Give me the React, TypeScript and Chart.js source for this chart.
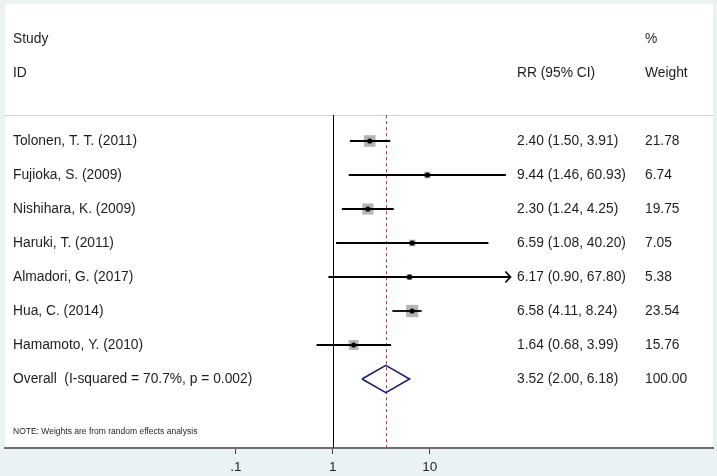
import { useEffect, useRef } from 'react';
import { Chart, registerables } from 'chart.js';

Chart.register(...registerables);

// ---------------- data ----------------
const studies = [
  'Tolonen, T. T. (2011)',
  'Fujioka, S. (2009)',
  'Nishihara, K. (2009)',
  'Haruki, T. (2011)',
  'Almadori, G. (2017)',
  'Hua, C. (2014)',
  'Hamamoto, Y. (2010)',
];
const rr = [2.4, 9.44, 2.3, 6.59, 6.17, 6.58, 1.64];
const ciLow = [1.5, 1.46, 1.24, 1.08, 0.9, 4.11, 0.68];
const ciHigh = [3.91, 60.93, 4.25, 40.2, 67.8, 8.24, 3.99];
const weights = [21.78, 6.74, 19.75, 7.05, 5.38, 23.54, 15.76];
const arrowRight = [false, false, false, false, true, false, false];

const overallLabel = 'Overall  (I-squared = 70.7%, p = 0.002)';
const overallRR = 3.52;
const overallLow = 2.0;
const overallHigh = 6.18;
const overallWeight = 100.0;

const xTicks = [0.1, 1, 10];
const xTickLabels = ['.1', '1', '10'];

const headerLeft = ['Study', 'ID'];
const headerMid = 'RR (95% CI)';
const headerRight = ['%', 'Weight'];
const note = 'NOTE: Weights are from random effects analysis';

// ---------------- layout / style ----------------
const W = 717;
const H = 476;
const FONT = '"Liberation Sans", Arial, Helvetica, sans-serif';
const TEXT_PX = 13.8;
const X_LOG_MIN = -3.38;
const X_LOG_MAX = 3.92;
const Y_MIN = -4.03;
const Y_MAX = 9.03;
const SEP_ROW = -0.76;
const NOTE_ROW = 8.56;
const HEADER_ROWS = [-3, -2];
const OVERALL_ROW = studies.length;
const DIAMOND_HALF = 0.4;
const BOX_K = 2.5;
const COL_LABEL_X = 13;
const COL_RR_X = 517;
const COL_W_X = 645;
const X_AXIS_HEIGHT = 28;

const fmt = (v: number) => v.toFixed(2);

export default function App() {
  const ref = useRef<HTMLCanvasElement | null>(null);

  useEffect(() => {
    document.body.style.margin = '0';
    const canvas = ref.current;
    if (!canvas) return;

    const rows = studies.map((_, i) => i);

    const ciDatasets = studies.map((s, i) => ({
      type: 'scatter' as const,
      label: 'ci-' + s,
      data: [
        { x: ciLow[i], y: rows[i] },
        { x: ciHigh[i], y: rows[i] },
      ],
      showLine: true,
      borderColor: '#000000',
      borderWidth: 1.8,
      pointRadius: 0,
      order: 1,
    }));

    const bgPlugin = {
      id: 'forestBg',
      beforeDraw(chart: any) {
        const { ctx, chartArea, scales } = chart;
        ctx.save();
        ctx.fillStyle = '#eaf2f3';
        ctx.fillRect(0, 0, chart.width, chart.height);
        ctx.fillStyle = '#ffffff';
        ctx.fillRect(chartArea.left, chartArea.top, chartArea.right - chartArea.left, chartArea.bottom - chartArea.top);
        const ySep = Math.round(scales.y.getPixelForValue(SEP_ROW)) + 0.5;
        ctx.strokeStyle = '#d4d4d4';
        ctx.lineWidth = 1;
        ctx.beginPath();
        ctx.moveTo(chartArea.left, ySep);
        ctx.lineTo(chartArea.right, ySep);
        ctx.stroke();
        ctx.restore();
      },
      beforeDatasetsDraw(chart: any) {
        const { ctx, chartArea, scales } = chart;
        const ySep = scales.y.getPixelForValue(SEP_ROW);
        ctx.save();
        const x1 = Math.round(scales.x.getPixelForValue(1)) + 0.5;
        ctx.strokeStyle = '#000000';
        ctx.lineWidth = 1;
        ctx.beginPath();
        ctx.moveTo(x1, ySep);
        ctx.lineTo(x1, chartArea.bottom);
        ctx.stroke();
        const xo = Math.round(scales.x.getPixelForValue(overallRR)) + 0.5;
        ctx.strokeStyle = '#a03c4c';
        ctx.setLineDash([3, 3]);
        ctx.beginPath();
        ctx.moveTo(xo, ySep);
        ctx.lineTo(xo, chartArea.bottom);
        ctx.stroke();
        ctx.setLineDash([]);
        ctx.restore();
      },
      afterDatasetsDraw(chart: any) {
        const { ctx, scales } = chart;
        ctx.save();
        ctx.strokeStyle = '#000000';
        ctx.lineWidth = 1.8;
        studies.forEach((_, i) => {
          if (!arrowRight[i]) return;
          const xt = scales.x.getPixelForValue(ciHigh[i]);
          const yt = scales.y.getPixelForValue(rows[i]);
          ctx.beginPath();
          ctx.moveTo(xt - 5, yt - 5.5);
          ctx.lineTo(xt, yt);
          ctx.lineTo(xt - 5, yt + 5.5);
          ctx.stroke();
        });
        ctx.restore();
      },
      afterDraw(chart: any) {
        const { ctx, scales } = chart;
        const y = scales.y;
        ctx.save();
        ctx.fillStyle = '#1e1e1e';
        ctx.textBaseline = 'middle';
        ctx.textAlign = 'left';
        ctx.font = `${TEXT_PX}px ${FONT}`;
        headerLeft.forEach((t, k) => ctx.fillText(t, COL_LABEL_X, y.getPixelForValue(HEADER_ROWS[k])));
        headerRight.forEach((t, k) => ctx.fillText(t, COL_W_X, y.getPixelForValue(HEADER_ROWS[k])));
        ctx.fillText(headerMid, COL_RR_X, y.getPixelForValue(HEADER_ROWS[1]));
        studies.forEach((s, i) => {
          const py = y.getPixelForValue(rows[i]);
          ctx.fillText(s, COL_LABEL_X, py);
          ctx.fillText(`${fmt(rr[i])} (${fmt(ciLow[i])}, ${fmt(ciHigh[i])})`, COL_RR_X, py);
          ctx.fillText(fmt(weights[i]), COL_W_X, py);
        });
        const po = y.getPixelForValue(OVERALL_ROW);
        ctx.fillText(overallLabel, COL_LABEL_X, po);
        ctx.fillText(`${fmt(overallRR)} (${fmt(overallLow)}, ${fmt(overallHigh)})`, COL_RR_X, po);
        ctx.fillText(fmt(overallWeight), COL_W_X, po);
        ctx.font = `8.5px ${FONT}`;
        ctx.fillText(note, COL_LABEL_X, y.getPixelForValue(NOTE_ROW));
        ctx.restore();
      },
    };

    const chart = new Chart(canvas, {
      type: 'scatter',
      data: {
        datasets: [
          {
            label: 'estimate',
            data: studies.map((_, i) => ({ x: rr[i], y: rows[i] })),
            pointRadius: 2.6,
            pointBackgroundColor: '#000000',
            pointBorderWidth: 0,
            order: 0,
          },
          ...ciDatasets,
          {
            label: 'overall',
            data: [
              { x: overallLow, y: OVERALL_ROW },
              { x: overallRR, y: OVERALL_ROW - DIAMOND_HALF },
              { x: overallHigh, y: OVERALL_ROW },
              { x: overallRR, y: OVERALL_ROW + DIAMOND_HALF },
              { x: overallLow, y: OVERALL_ROW },
            ],
            showLine: true,
            borderColor: '#1c1f6e',
            borderWidth: 1.6,
            pointRadius: 0,
            order: 1,
          } as any,
          {
            label: 'weight boxes',
            data: studies.map((_, i) => ({ x: rr[i], y: rows[i] })),
            pointStyle: 'rect',
            pointRadius: weights.map((w) => (BOX_K * Math.sqrt(w)) / Math.SQRT2),
            pointBackgroundColor: '#b4b4b4',
            pointBorderWidth: 0,
            order: 2,
          } as any,
        ],
      },
      options: {
        animation: false,
        responsive: false,
        devicePixelRatio: 1,
        layout: { autoPadding: false, padding: { left: 5, right: 4, top: 4, bottom: 0 } },
        plugins: { legend: { display: false }, tooltip: { enabled: false } },
        events: [],
        scales: {
          x: {
            type: 'logarithmic',
            min: Math.pow(10, X_LOG_MIN),
            max: Math.pow(10, X_LOG_MAX),
            afterBuildTicks: (scale: any) => {
              scale.ticks = xTicks.map((v) => ({ value: v }));
            },
            afterFit: (scale: any) => {
              scale.height = X_AXIS_HEIGHT;
            },
            ticks: {
              autoSkip: false,
              maxRotation: 0,
              padding: 5,
              color: '#262626',
              font: { family: FONT, size: 13.5 },
              callback: (_v: any, idx: number) => xTickLabels[idx],
            },
            grid: {
              display: true,
              drawOnChartArea: false,
              drawTicks: true,
              tickLength: 6,
              color: '#444444',
              lineWidth: 1,
            },
            border: { display: true, color: '#6e6e6e', width: 2 },
          },
          y: {
            type: 'linear',
            reverse: true,
            min: Y_MIN,
            max: Y_MAX,
            display: false,
          },
        },
      },
      plugins: [bgPlugin],
    } as any);

    return () => chart.destroy();
  }, []);

  return <canvas ref={ref} width={W} height={H} style={{ display: 'block', width: W, height: H }} />;
}
